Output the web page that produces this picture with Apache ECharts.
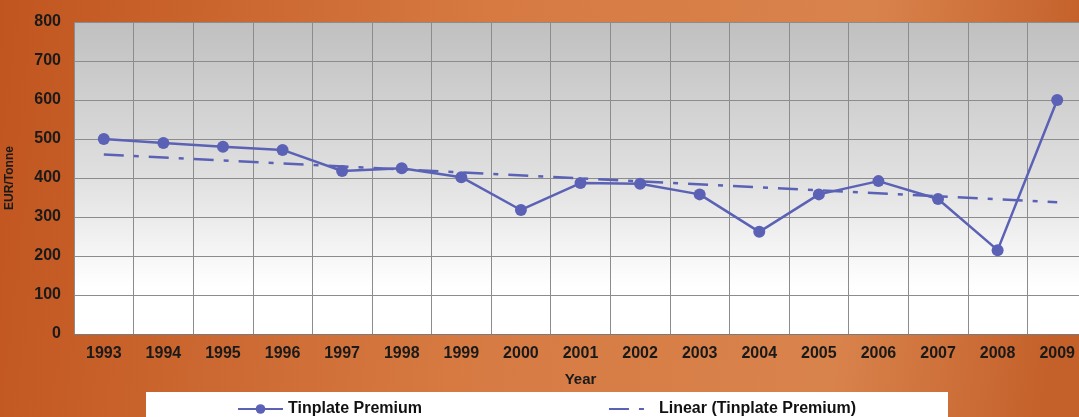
<!DOCTYPE html>
<html>
<head>
<meta charset="utf-8">
<script src="https://cdn.jsdelivr.net/npm/echarts@6/dist/echarts.min.js"></script>
<style>
  html, body { margin: 0; padding: 0; }
  #chart { width: 1079px; height: 417px; }
</style>
</head>
<body>
<div id="chart"></div>
<script>
const years = ['1993', '1994', '1995', '1996', '1997', '1998', '1999', '2000', '2001',
  '2002', '2003', '2004', '2005', '2006', '2007', '2008', '2009'];
const premium = [500, 490, 480, 472, 418, 425, 402, 318, 387, 385, 358, 262, 358, 392, 346, 215, 600];
// trend line read at its two ends only
const trendEnds = [['1993', 460], ['2009', 338]];
const yTicks = [0, 100, 200, 300, 400, 500, 600, 700, 800];

const chart = echarts.init(document.getElementById('chart'));
const blue = '#5b62b5';
const font = 'Liberation Sans, Arial, sans-serif';

const option = {
  backgroundColor: {
    type: 'linear', x: 0, y: 0, x2: 1, y2: 0.3,
    colorStops: [
      { offset: 0, color: '#c1551f' },
      { offset: 0.45, color: '#d67a42' },
      { offset: 0.8, color: '#d9834c' },
      { offset: 1, color: '#c4602a' }
    ]
  },
  animation: false,
  textStyle: { fontFamily: font },
  graphic: [{
    type: 'rect',
    shape: { x: 146, y: 392, width: 802, height: 30 },
    style: { fill: '#ffffff' },
    z: 0
  }],
  grid: {
    left: 74, right: -8, top: 22, bottom: 83,
    outerBoundsMode: 'none',
    containLabel: false,
    show: true,
    borderWidth: 0,
    backgroundColor: {
      type: 'linear', x: 0, y: 0, x2: 0, y2: 1,
      colorStops: [
        { offset: 0, color: '#c0c0c0' },
        { offset: 0.5, color: '#e0e0e0' },
        { offset: 0.85, color: '#ffffff' },
        { offset: 1, color: '#ffffff' }
      ]
    }
  },
  legend: {
    left: 232, top: 396,
    itemWidth: 45, itemHeight: 12,
    itemGap: 186,
    textStyle: { fontFamily: font, fontWeight: 'bold', fontSize: 16, color: '#111' },
    data: [
      { name: 'Tinplate Premium' },
      { name: 'Linear (Tinplate Premium)', itemStyle: { opacity: 0 } }
    ]
  },
  xAxis: {
    type: 'category',
    data: years,
    boundaryGap: true,
    name: 'Year',
    nameLocation: 'middle',
    nameGap: 38,
    nameTextStyle: { fontFamily: font, fontWeight: 'bold', fontSize: 15, color: '#1a1a1a' },
    axisLine: { lineStyle: { color: '#7a7a7a', width: 1 } },
    axisTick: { show: false },
    axisLabel: { fontFamily: font, fontWeight: 'bold', fontSize: 16, color: '#1a1a1a', margin: 12 },
    splitLine: { show: true, lineStyle: { color: '#8c8c8c', width: 1 } }
  },
  yAxis: {
    type: 'value',
    min: yTicks[0], max: yTicks[yTicks.length - 1], interval: 100,
    name: 'EUR/Tonne',
    nameLocation: 'middle',
    nameGap: 58,
    nameTextStyle: { fontFamily: font, fontWeight: 'bold', fontSize: 12, color: '#1a1a1a' },
    axisLine: { show: false },
    axisTick: { show: false },
    axisLabel: { fontFamily: font, fontWeight: 'bold', fontSize: 16, color: '#1a1a1a', margin: 13 },
    splitLine: { show: true, lineStyle: { color: '#8c8c8c', width: 1 } }
  },
  series: [
    {
      name: 'Tinplate Premium',
      type: 'line',
      data: premium,
      symbol: 'circle',
      symbolSize: 12,
      itemStyle: { color: blue },
      lineStyle: { color: blue, width: 2.5 },
      z: 3
    },
    {
      name: 'Linear (Tinplate Premium)',
      type: 'line',
      data: trendEnds,
      symbol: 'none',
      itemStyle: { color: blue },
      lineStyle: { color: blue, width: 2.5, type: [20, 10, 5, 10] },
      z: 2
    }
  ]
};

chart.setOption(option);
</script>
</body>
</html>
